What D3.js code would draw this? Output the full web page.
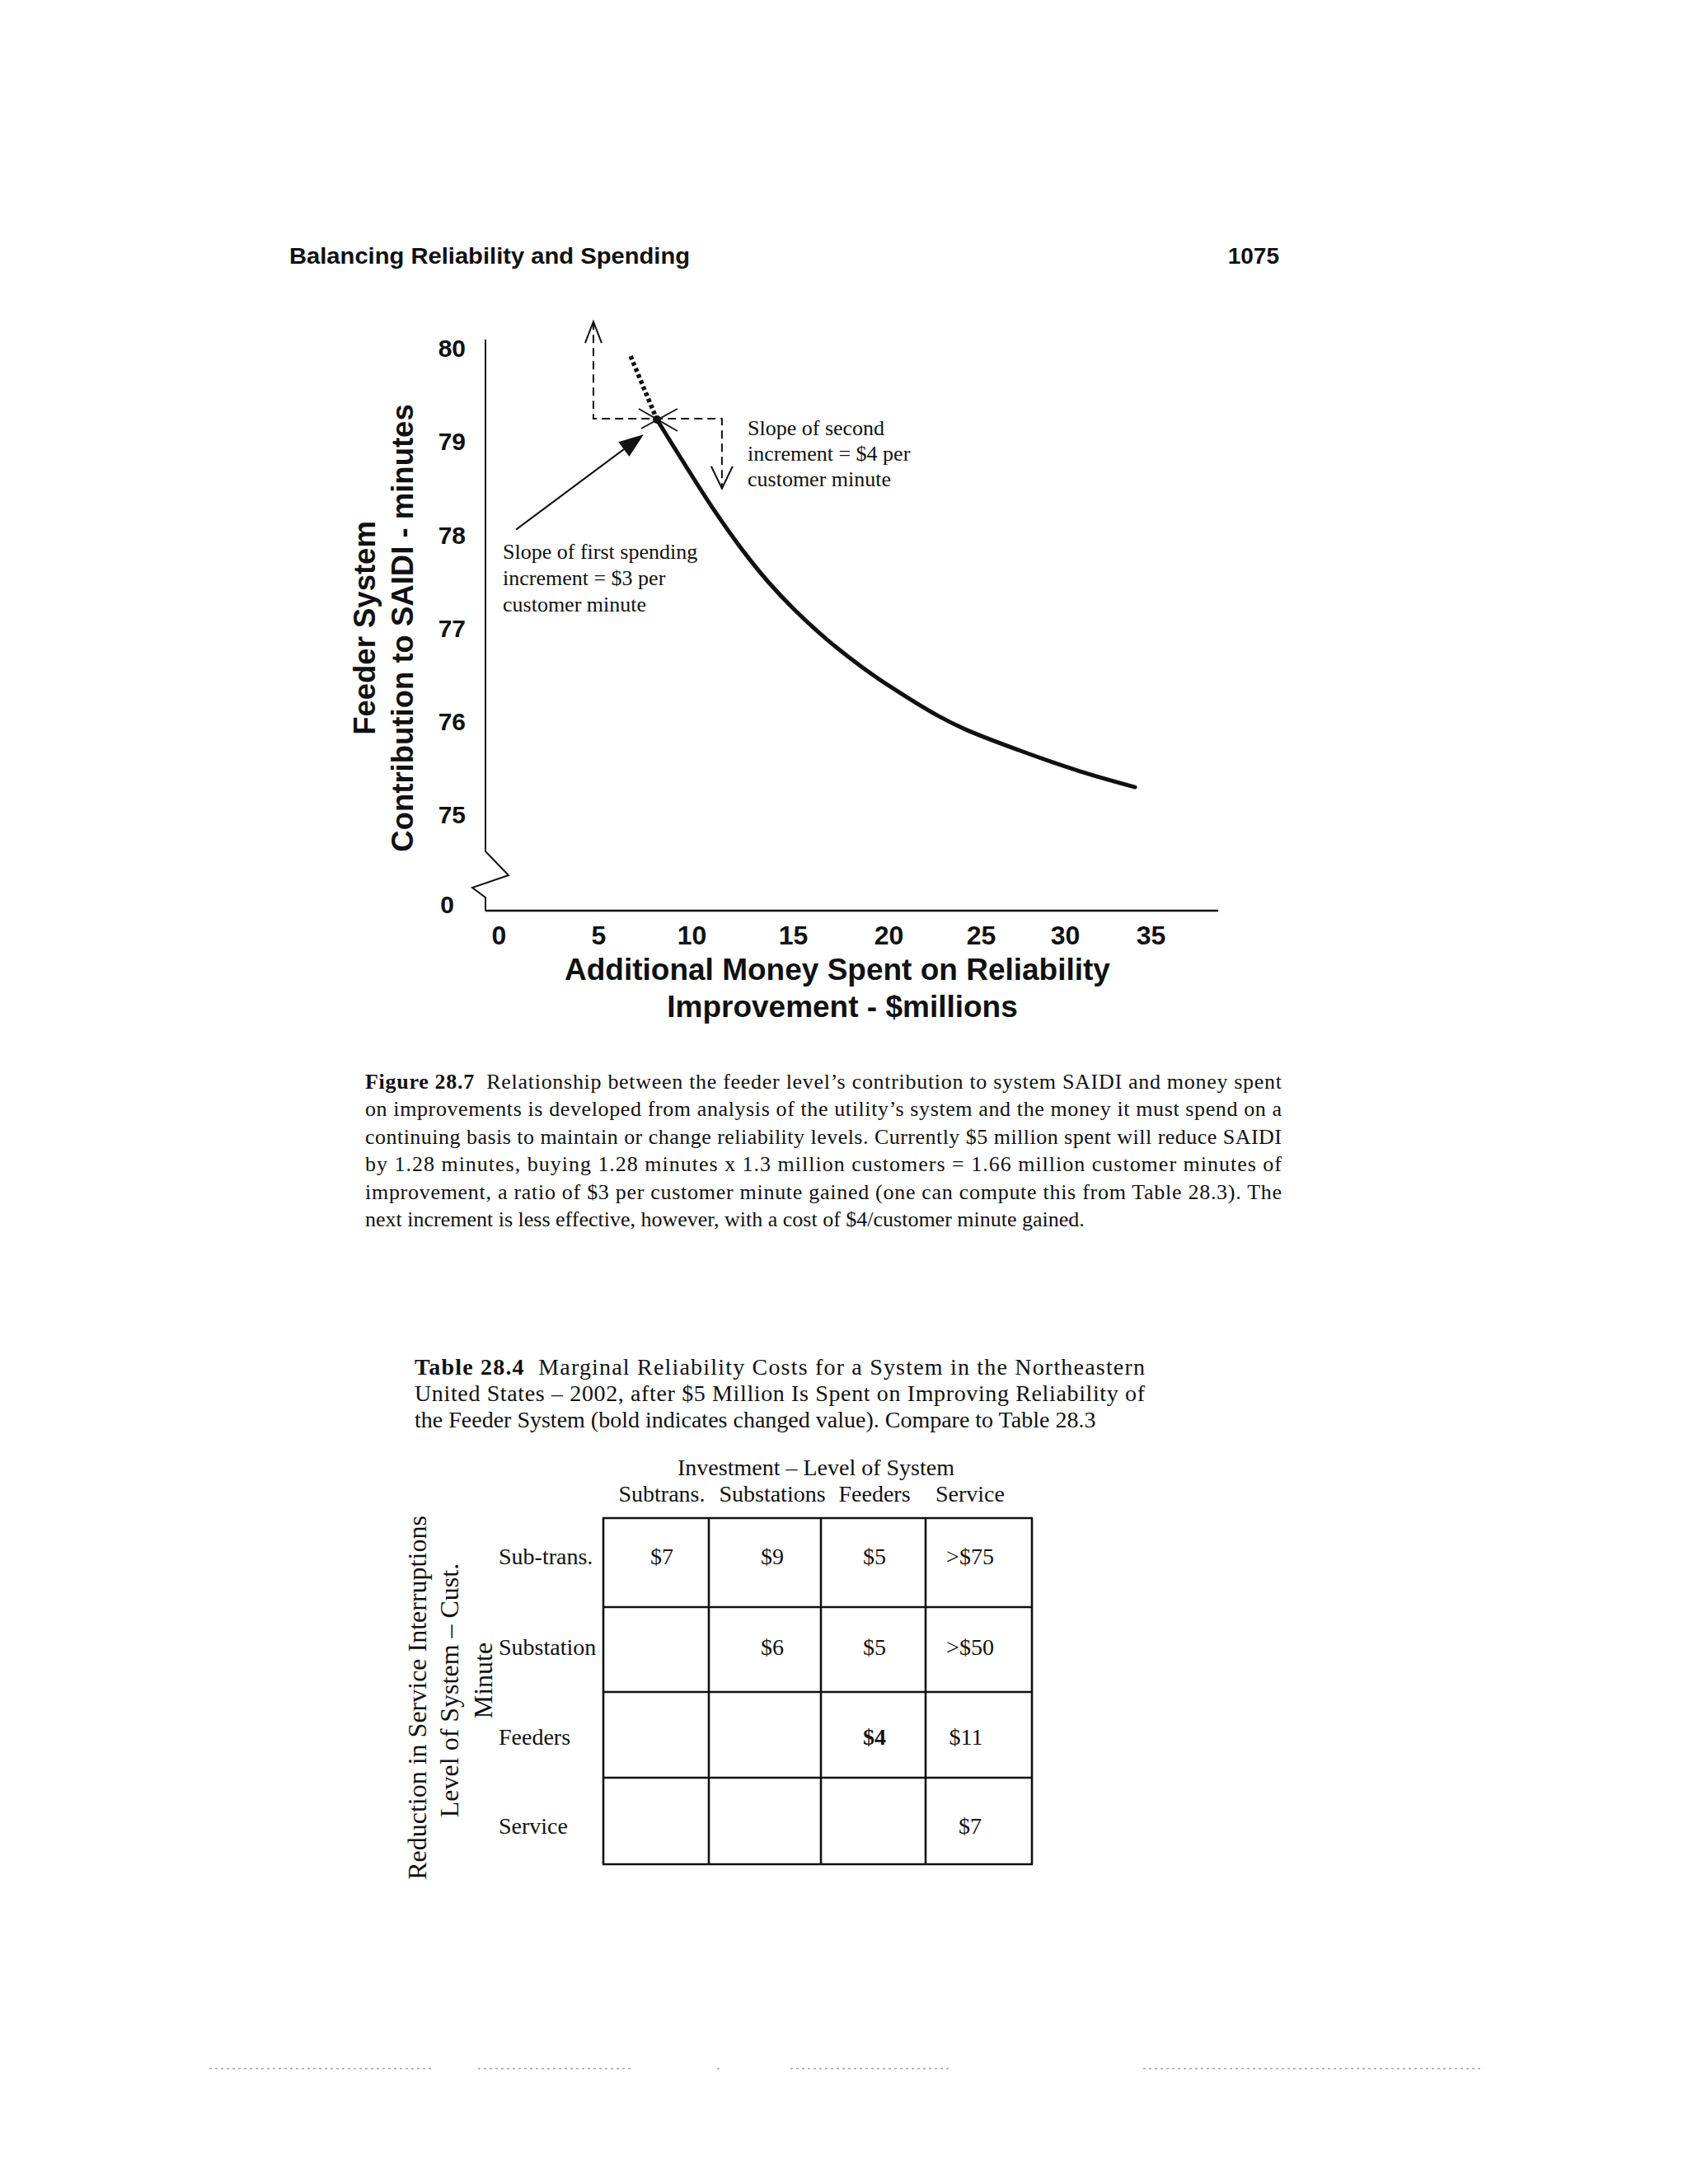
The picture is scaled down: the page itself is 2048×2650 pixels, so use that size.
<!DOCTYPE html>
<meta charset="utf-8">
<style>
  body { margin: 0; background: #fff; }
</style>
<script src="https://cdn.jsdelivr.net/npm/d3@7"></script>
<div id="page"></div>
<script>

// ---------- values ----------
var pageHeader = "Balancing Reliability and Spending";
var pageNumber = "1075";

var xTicks = [0, 5, 10, 15, 20, 25, 30, 35];
var yTicks = [80, 79, 78, 77, 76, 75];
var yBreakLabel = "0";

// SAIDI curve (money in $M, SAIDI in minutes)
var curveMoney = [8.14, 9.73, 11.14, 12.48, 13.78, 15.09, 16.85, 18.66, 20.31, 22.63, 24.15, 27.50, 30.87, 34.09];
var curveSaidi = [79.24, 78.73, 78.26, 77.85, 77.50, 77.20, 76.87, 76.58, 76.35, 76.07, 75.92, 75.68, 75.47, 75.30];

// dotted continuation back from the current point
var backMoney = [6.73, 8.14];
var backSaidi = [79.92, 79.24];

// current operating point
var currentMoney = 8.14;
var currentSaidi = 79.24;

// dashed step (up arrow, across, down arrow)
var stepMoney = [4.75, 4.75, 11.5, 11.5];
var stepSaidi = [80.29, 79.25, 79.25, 78.50];

// solid pointer arrow to the first increment
var arrowMoney = [0.87, 7.43];
var arrowSaidi = [78.06, 79.08];

var noteFirst = ["Slope of first spending", "increment = $3 per", "customer minute"];
var noteSecond = ["Slope of second", "increment = $4 per", "customer minute"];

var yTitle = ["Feeder System", "Contribution to SAIDI - minutes"];
var xTitle = ["Additional Money Spent on Reliability", "Improvement - $millions"];

var figLabel = "Figure 28.7";
var figCaption = [
  "  Relationship between the feeder level\u2019s contribution to system SAIDI and money spent",
  "on improvements is developed from analysis of the utility\u2019s system and the money it must spend on a",
  "continuing basis to maintain or change reliability levels. Currently $5 million spent will reduce SAIDI",
  "by 1.28 minutes, buying 1.28 minutes x 1.3 million customers = 1.66 million customer minutes of",
  "improvement, a ratio of $3 per customer minute gained (one can compute this from Table 28.3). The",
  "next increment is less effective, however, with a cost of $4/customer minute gained."
];

var tabLabel = "Table 28.4";
var tabCaption = [
  "  Marginal Reliability Costs for a System in the Northeastern",
  "United States \u2013 2002, after $5 Million Is Spent on Improving Reliability of",
  "the Feeder System (bold indicates changed value). Compare to Table 28.3"
];
var tabColTitle = "Investment \u2013 Level of System";
var colLabels = ["Subtrans.", "Substations", "Feeders", "Service"];
var rowLabels = ["Sub-trans.", "Substation", "Feeders", "Service"];
var rowTitle = ["Reduction in Service Interruptions", "Level of System \u2013 Cust.", "Minute"];
var cellValues = [
  ["$7", "$9", "$5", ">$75"],
  ["", "$6", "$5", ">$50"],
  ["", "", "$4", "$11"],
  ["", "", "", "$7"]
];
var boldCells = ["2,2"];

// ---------- layout ----------
var W = 2048, H = 2650;
var sans = "'Liberation Sans', Arial, Helvetica, sans-serif";
var serif = "'Liberation Serif', 'Times New Roman', serif";
var ink = "#111";

var xTickPos = [605, 726, 839, 962, 1078, 1190, 1292, 1396];
var axisX = 589, axisTop = 412, axisY = 1105, axisRight = 1478;

var svg = d3.select("#page")
  .append("svg")
    .attr("width", W)
    .attr("height", H)
    .style("background", "#fff");

// page header
svg.append("text")
  .attr("x", 351).attr("y", 320)
  .attr("font-family", sans).attr("font-weight", "bold").attr("font-size", 28)
  .attr("textLength", 486).attr("lengthAdjust", "spacingAndGlyphs")
  .attr("fill", ink)
  .text(pageHeader);
svg.append("text")
  .attr("x", 1552).attr("y", 320).attr("text-anchor", "end")
  .attr("font-family", sans).attr("font-weight", "bold").attr("font-size", 28)
  .attr("fill", ink)
  .text(pageNumber);

// scales (x is piecewise because the printed tick spacing is uneven)
var x = d3.scaleLinear().domain(xTicks).range(xTickPos);
var y = d3.scaleLinear().domain([75, 80]).range([989, 423]);

// axes lines with the axis break
svg.append("path")
  .attr("d", "M" + axisX + "," + axisTop + " L" + axisX + ",1033 L617,1062 L573,1077 L" + axisX + ",1089 L" + axisX + "," + axisY)
  .attr("fill", "none").attr("stroke", ink).attr("stroke-width", 2);
svg.append("line")
  .attr("x1", axisX).attr("x2", axisRight).attr("y1", axisY).attr("y2", axisY)
  .attr("stroke", ink).attr("stroke-width", 2.5);

// x tick labels
var gx = svg.append("g")
  .attr("transform", "translate(0," + axisY + ")")
  .call(d3.axisBottom(x).tickValues(xTicks).tickFormat(d3.format("d")).tickSize(0).tickPadding(18));
gx.select(".domain").remove();
gx.selectAll("text")
  .attr("font-family", sans).attr("font-weight", "bold").attr("font-size", 32)
  .attr("fill", ink);

// y tick labels
var gy = svg.append("g")
  .attr("transform", "translate(" + axisX + ",0)")
  .call(d3.axisLeft(y).tickValues(yTicks).tickFormat(d3.format("d")).tickSize(0).tickPadding(24));
gy.select(".domain").remove();
gy.selectAll("text")
  .attr("font-family", sans).attr("font-weight", "bold").attr("font-size", 30)
  .attr("fill", ink);
svg.append("text")
  .attr("x", 551).attr("y", 1097).attr("dy", "0.35em").attr("text-anchor", "end")
  .attr("font-family", sans).attr("font-weight", "bold").attr("font-size", 30)
  .attr("fill", ink)
  .text(yBreakLabel);

// axis titles
svg.selectAll(".ytitle")
  .data(yTitle)
  .enter()
  .append("text")
    .attr("transform", function(d, i) { return "translate(" + (442 + i * 46) + ",762) rotate(-90)"; })
    .attr("dy", "0.35em").attr("text-anchor", "middle")
    .attr("font-family", sans).attr("font-weight", "bold").attr("font-size", 36.5)
    .attr("fill", ink)
    .text(function(d) { return d; });
svg.selectAll(".xtitle")
  .data(xTitle)
  .enter()
  .append("text")
    .attr("x", function(d, i) { return i == 0 ? 1016 : 1022; })
    .attr("y", function(d, i) { return 1189 + i * 45; })
    .attr("text-anchor", "middle")
    .attr("font-family", sans).attr("font-weight", "bold").attr("font-size", 37)
    .attr("fill", ink)
    .text(function(d) { return d; });

// curve
var line = d3.line()
  .x(function(d) { return x(d[0]); })
  .y(function(d) { return y(d[1]); });

svg.append("path")
  .datum(d3.zip(curveMoney, curveSaidi))
  .attr("d", line.curve(d3.curveCatmullRom.alpha(0.5)))
  .attr("fill", "none").attr("stroke", ink).attr("stroke-width", 5)
  .attr("stroke-linecap", "round");

// dotted back-extension
svg.append("path")
  .datum(d3.zip(backMoney, backSaidi))
  .attr("d", d3.line().x(function(d) { return x(d[0]); }).y(function(d) { return y(d[1]); }))
  .attr("fill", "none").attr("stroke", ink).attr("stroke-width", 5.5)
  .attr("stroke-dasharray", "4.5,3.5");

// dashed step with open arrow heads
svg.append("path")
  .datum(d3.zip(stepMoney, stepSaidi))
  .attr("d", d3.line().x(function(d) { return x(d[0]); }).y(function(d) { return y(d[1]); }))
  .attr("fill", "none").attr("stroke", ink).attr("stroke-width", 2)
  .attr("stroke-dasharray", "10,6");

var upX = x(stepMoney[0]), upY = y(stepSaidi[0]);
svg.append("path")
  .attr("d", "M" + (upX - 10) + "," + (upY + 26) + " L" + upX + "," + upY + " L" + (upX + 10) + "," + (upY + 26))
  .attr("fill", "none").attr("stroke", ink).attr("stroke-width", 2);
var dnX = x(stepMoney[3]), dnY = y(stepSaidi[3]);
svg.append("path")
  .attr("d", "M" + (dnX - 13) + "," + (dnY - 27) + " L" + dnX + "," + dnY + " L" + (dnX + 13) + "," + (dnY - 27))
  .attr("fill", "none").attr("stroke", ink).attr("stroke-width", 2);

// X marker at the current point
var cx = x(currentMoney), cy = y(currentSaidi);
svg.append("line").attr("x1", cx - 22).attr("y1", cy - 13).attr("x2", cx + 25).attr("y2", cy + 14)
  .attr("stroke", ink).attr("stroke-width", 1.8);
svg.append("line").attr("x1", cx - 19).attr("y1", cy + 11).attr("x2", cx + 25).attr("y2", cy - 13)
  .attr("stroke", ink).attr("stroke-width", 1.8);
svg.append("circle").attr("cx", cx).attr("cy", cy).attr("r", 5).attr("fill", ink);

// solid pointer arrow
var ax0 = x(arrowMoney[0]), ay0 = y(arrowSaidi[0]);
var ax1 = x(arrowMoney[1]), ay1 = y(arrowSaidi[1]);
var ang = Math.atan2(ay1 - ay0, ax1 - ax0);
var headLen = 30, headHalf = 11;
var bx = ax1 - headLen * Math.cos(ang), by = ay1 - headLen * Math.sin(ang);
svg.append("line")
  .attr("x1", ax0).attr("y1", ay0).attr("x2", bx).attr("y2", by)
  .attr("stroke", ink).attr("stroke-width", 2);
svg.append("path")
  .attr("d", "M" + ax1 + "," + ay1 +
    " L" + (bx + headHalf * Math.sin(ang)) + "," + (by - headHalf * Math.cos(ang)) +
    " L" + (bx - headHalf * Math.sin(ang)) + "," + (by + headHalf * Math.cos(ang)) + " Z")
  .attr("fill", ink);

// annotations
svg.selectAll(".note1")
  .data(noteFirst)
  .enter()
  .append("text")
    .attr("x", 610).attr("y", function(d, i) { return 678 + i * 32; })
    .attr("font-family", serif).attr("font-size", 26).attr("fill", ink)
    .text(function(d) { return d; });
svg.selectAll(".note2")
  .data(noteSecond)
  .enter()
  .append("text")
    .attr("x", 907).attr("y", function(d, i) { return 528 + i * 31; })
    .attr("font-family", serif).attr("font-size", 26).attr("fill", ink)
    .text(function(d) { return d; });

// figure caption (justified lines)
figCaption.forEach(function(t, i) {
  var tx = svg.append("text")
    .attr("x", 443).attr("y", 1321 + i * 33.4)
    .attr("font-family", serif).attr("font-size", 26).attr("fill", ink)
    .attr("xml:space", "preserve");
  if (i < figCaption.length - 1) tx.attr("textLength", 1112).attr("lengthAdjust", "spacing");
  if (i == 0) tx.append("tspan").attr("font-weight", "bold").text(figLabel);
  tx.append("tspan").text(t);
});

// table caption
tabCaption.forEach(function(t, i) {
  var tx = svg.append("text")
    .attr("x", 503).attr("y", 1668 + i * 32)
    .attr("font-family", serif).attr("font-size", 28).attr("fill", ink)
    .attr("xml:space", "preserve");
  if (i < 2) tx.attr("textLength", 886).attr("lengthAdjust", "spacing");
  if (i == 0) tx.append("tspan").attr("font-weight", "bold").text(tabLabel);
  tx.append("tspan").text(t);
});

// table
var colEdges = [732, 860, 996, 1123, 1252];
var rowEdges = [1842, 1950, 2053, 2157, 2262];
var textCenters = [803, 937, 1061, 1177];
var rowBase = [1898, 2008, 2117, 2225];

svg.append("text")
  .attr("x", 990).attr("y", 1790).attr("text-anchor", "middle")
  .attr("font-family", serif).attr("font-size", 28).attr("fill", ink)
  .text(tabColTitle);
svg.selectAll(".colLab")
  .data(colLabels)
  .enter()
  .append("text")
    .attr("x", function(d, i) { return textCenters[i]; }).attr("y", 1822)
    .attr("text-anchor", "middle")
    .attr("font-family", serif).attr("font-size", 28).attr("fill", ink)
    .text(function(d) { return d; });

svg.selectAll(".vline")
  .data(colEdges)
  .enter()
  .append("line")
    .attr("x1", function(d) { return d; }).attr("x2", function(d) { return d; })
    .attr("y1", rowEdges[0]).attr("y2", rowEdges[rowEdges.length - 1])
    .attr("stroke", ink).attr("stroke-width", 2.6);
svg.selectAll(".hline")
  .data(rowEdges)
  .enter()
  .append("line")
    .attr("y1", function(d) { return d; }).attr("y2", function(d) { return d; })
    .attr("x1", colEdges[0] - 1).attr("x2", colEdges[colEdges.length - 1] + 1)
    .attr("stroke", ink).attr("stroke-width", 2.6);

svg.selectAll(".rowLab")
  .data(rowLabels)
  .enter()
  .append("text")
    .attr("x", 605).attr("y", function(d, i) { return rowBase[i]; })
    .attr("font-family", serif).attr("font-size", 28).attr("fill", ink)
    .text(function(d) { return d; });

cellValues.forEach(function(row, r) {
  row.forEach(function(v, c) {
    if (!v) return;
    svg.append("text")
      .attr("x", textCenters[c] + (v == "$11" ? -5 : 0)).attr("y", rowBase[r])
      .attr("text-anchor", "middle")
      .attr("font-family", serif).attr("font-size", 28).attr("fill", ink)
      .attr("font-weight", boldCells.indexOf(r + "," + c) >= 0 ? "bold" : "normal")
      .text(v);
  });
});

var rowTitleX = [506, 545, 586], rowTitleY = [2060, 2051, 2039];
svg.selectAll(".rowTitle")
  .data(rowTitle)
  .enter()
  .append("text")
    .attr("transform", function(d, i) { return "translate(" + rowTitleX[i] + "," + rowTitleY[i] + ") rotate(-90)"; })
    .attr("dy", "0.35em").attr("text-anchor", "middle")
    .attr("font-family", serif).attr("font-size", 32).attr("fill", ink)
    .text(function(d) { return d; });

// faint scan residue near the bottom of the page
var residue = [[254, 525], [580, 769], [870, 874], [959, 1154], [1387, 1799]];
svg.selectAll(".residue")
  .data(residue)
  .enter()
  .append("line")
    .attr("x1", function(d) { return d[0]; }).attr("x2", function(d) { return d[1]; })
    .attr("y1", 2510).attr("y2", 2510)
    .attr("stroke", "#bbb").attr("stroke-width", 2).attr("stroke-dasharray", "3,4");

</script>
